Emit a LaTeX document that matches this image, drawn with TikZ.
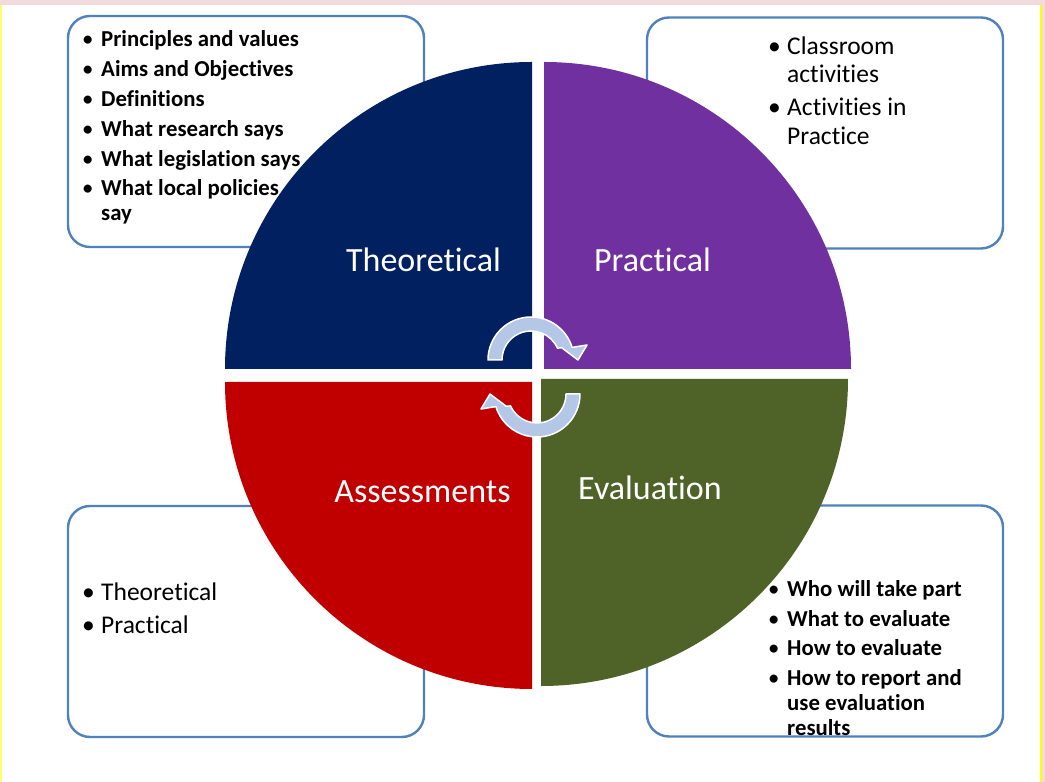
\documentclass[tikz,border=0pt]{standalone}
\usepackage{fontspec}
\setmainfont{Carlito}[Ligatures=NoCommon]
\usepackage{xcolor}
\usepackage{tikz}
\usetikzlibrary{positioning}

\definecolor{boxblue}{RGB}{79,129,189}
\definecolor{theonavy}{RGB}{0,32,96}
\definecolor{pracpurple}{RGB}{112,48,160}
\definecolor{assessred}{RGB}{192,0,0}
\definecolor{evalgreen}{RGB}{79,98,40}
\definecolor{arrowfill}{RGB}{180,199,231}
\definecolor{slidepink}{RGB}{242,220,219}
\definecolor{slideyellow}{RGB}{255,255,0}
\definecolor{paleyellow}{RGB}{255,255,110}

\newcommand{\bul}{\makebox[19pt][l]{\normalfont\textbullet}}
\newcommand{\bind}{\makebox[19pt][l]{}}

\tikzset{
  infobox/.style={draw=boxblue, line width=2.4pt, rounded corners=22pt, fill=white,
    minimum width=356pt, minimum height=231pt, inner sep=0pt, outer sep=0pt},
  boldlist/.style={align=left, inner sep=0pt, anchor=base west,
    font=\bfseries\fontsize{22.8}{25}\selectfont},
  plainlist/.style={align=left, inner sep=0pt, anchor=base west,
    font=\fontsize{25.5}{28.5}\selectfont},
  quadlabel/.style={text=white, inner sep=0pt, anchor=base,
    font=\fontsize{34}{40}\selectfont},
  cyclearrow/.pic={
    \filldraw[fill=arrowfill, draw=white, line width=1.5pt, line join=round]
      (180:43) arc[start angle=180, end angle=17, radius=43]
      -- (15:58) -- (0:47) -- (22:33) -- (24:29)
      arc[start angle=24, end angle=180, radius=29] -- cycle;
  }
}

\begin{document}
\begin{tikzpicture}[x=1pt, y=1pt]

  % Slide background
  \useasboundingbox (0,0) rectangle (1045,782);
  \fill[white] (0,0) rectangle (1045,782);
  \fill[slidepink] (0,777) rectangle (1045,782);
  \fill[slidepink] (1042,0) rectangle (1045,782);
  \fill[slideyellow] (1040,0) rectangle (1042,777);
  \fill[paleyellow] (0,0) rectangle (2,777);

  % Boxes
  \node[infobox] (theobox) at (246,650.5) {};
  \node[infobox] (pracbox) at (825,649) {};
  \node[infobox] (assessbox) at (246,160.5) {};
  \node[infobox] (evalbox) at (825,161) {};

  % Box texts (anchored at the last baseline)
  \node[boldlist] (theolist) at ([xshift=14pt, yshift=-205pt]theobox.north west)
    {\bul Principles and values\\[4.8pt]
     \bul Aims and Objectives\\[4.8pt]
     \bul Definitions\\[4.8pt]
     \bul What research says\\[4.8pt]
     \bul What legislation says\\[4.8pt]
     \bul What local policies\\
     \bind say};
  \node[plainlist] (praclist) at ([xshift=121pt, yshift=-127pt]pracbox.north west)
    {\bul Classroom\\
     \bind activities\\[4.5pt]
     \bul Activities in\\
     \bind Practice};
  \node[plainlist] (assesslist) at ([xshift=14pt, yshift=-128pt]assessbox.north west)
    {\bul Theoretical\\[4.5pt]
     \bul Practical};
  \node[boldlist] (evallist) at ([xshift=121pt, yshift=-230pt]evalbox.north west)
    {\bul Who will take part\\[4.6pt]
     \bul What to evaluate\\[4.6pt]
     \bul How to evaluate\\[4.6pt]
     \bul How to report and\\
     \bind use evaluation\\
     \bind results};

  % Quadrants
  \fill[theonavy] (532,413) -- (225,413) arc[start angle=180, end angle=90, radius=307] -- cycle;
  \fill[pracpurple] (544,413) -- (544,720) arc[start angle=90, end angle=0, radius=307] -- cycle;
  \fill[assessred] (532,400) -- (532,93) arc[start angle=270, end angle=180, radius=307] -- cycle;
  \fill[evalgreen] (541,403) -- (848,403) arc[start angle=0, end angle=-90, radius=307] -- cycle;

  % Quadrant labels
  \node[quadlabel] (theo) at (423.5,510) {Theoretical};
  \node[quadlabel] (prac) at (652.5,510) {Practical};
  \node[quadlabel] (assess) at (422.5,279) {Assessments};
  \node[quadlabel] (eval) at (650,282) {Evaluation};

  % Cycle arrows
  \pic at (531,422) {cyclearrow};
  \pic[rotate=180] at (537,388) {cyclearrow};

\end{tikzpicture}
\end{document}
